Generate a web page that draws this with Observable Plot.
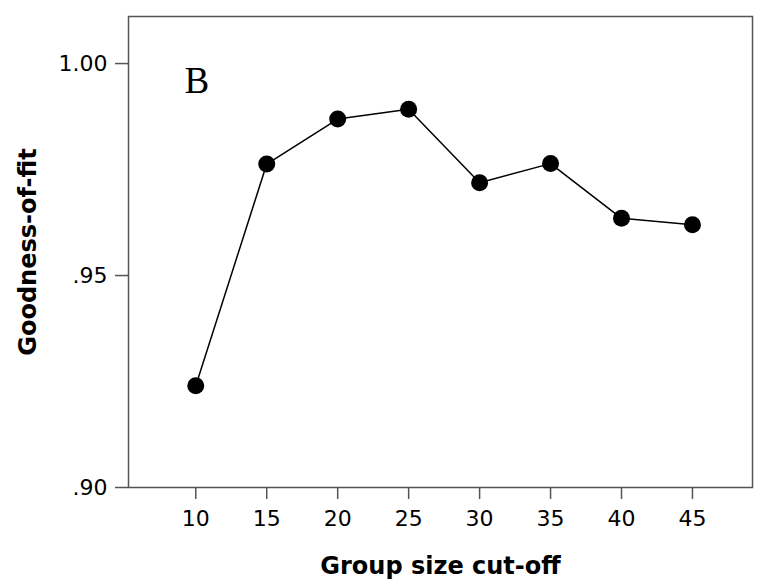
<!DOCTYPE html>
<html>
<head>
<meta charset="utf-8">
<script src="https://cdn.jsdelivr.net/npm/d3@7"></script>
<script src="https://cdn.jsdelivr.net/npm/@observablehq/plot@0.6"></script>
<style>
  html, body { margin: 0; padding: 0; background: #fff; }
</style>
</head>
<body>
<div id="chart"></div>
<script>
const cutoffs = [10, 15, 20, 25, 30, 35, 40, 45];
const fitValues = [0.9240, 0.9763, 0.9869, 0.9892, 0.9719, 0.9764, 0.9635, 0.9620];
const xTicks = [10, 15, 20, 25, 30, 35, 40, 45];
const yTicks = [0.90, 0.95, 1.00];
const yTickLabels = [".90", ".95", "1.00"];
const panelLabel = ["B"];

const data = cutoffs.map((c, i) => ({cutoff: c, fit: fitValues[i]}));
const yFmt = d => yTickLabels[yTicks.findIndex(t => Math.abs(t - d) < 1e-9)];

const chart = Plot.plot({
  width: 764,
  height: 584,
  marginLeft: 128,
  marginRight: 12,
  marginTop: 16,
  marginBottom: 97,
  style: {fontFamily: "DejaVu Sans", fontSize: "22px", color: "#000", background: "#fff"},
  x: {domain: [5.26, 49.23], label: null},
  y: {domain: [0.90, 1.0111], label: null},
  marks: [
    Plot.frame({stroke: "#555", strokeWidth: 1.5}),
    Plot.axisX({ticks: xTicks, tickSize: 12, tickPadding: 11, stroke: "#555", strokeWidth: 1.5,
                tickFormat: d => String(d), fontSize: 22, label: null}),
    Plot.axisY({ticks: yTicks, tickSize: 13, tickPadding: 8, stroke: "#555", strokeWidth: 1.5,
                tickFormat: yFmt, fontSize: 22, label: null}),
    Plot.text(["Group size cut-off"], {frameAnchor: "bottom", dy: 79, fontSize: 24, fontWeight: "bold",
                                       textAnchor: "middle", lineAnchor: "middle"}),
    Plot.text(["Goodness-of-fit"], {frameAnchor: "left", dx: -100, rotate: -90, fontSize: 24, fontWeight: "bold",
                                    textAnchor: "middle", lineAnchor: "middle"}),
    Plot.text(panelLabel, {frameAnchor: "top-left", dx: 56, dy: 76, textAnchor: "start", lineAnchor: "bottom",
                           fontFamily: "Liberation Serif", fontSize: 37}),
    Plot.line(data, {x: "cutoff", y: "fit", stroke: "#000", strokeWidth: 1.5}),
    Plot.dot(data, {x: "cutoff", y: "fit", r: 8.5, fill: "#000", stroke: "none"})
  ]
});
document.getElementById("chart").appendChild(chart);
</script>
</body>
</html>
